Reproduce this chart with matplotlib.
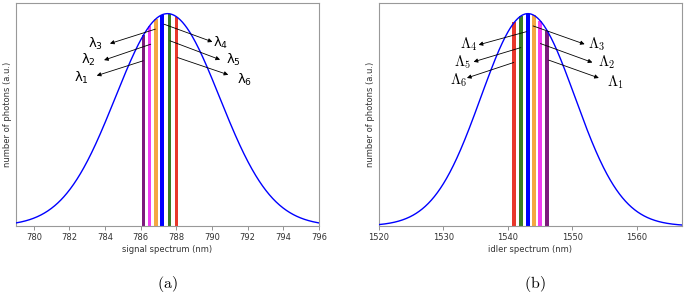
import numpy as np
import matplotlib.pyplot as plt

plt.rcParams["mathtext.fontset"] = "cm"

# signal side (nm)
signal_centre = 787.5
signal_sigma = 2.92
signal_lines = [786.15, 786.5, 786.85, 787.2, 787.6, 788.0]
signal_ticks = [780, 782, 784, 786, 788, 790, 792, 794, 796]

# idler side (nm)
idler_centre = 1543.1
idler_sigma = 7.3
idler_lines = [1541.0, 1542.0, 1543.1, 1544.0, 1545.0, 1546.1]
idler_ticks = [1520, 1530, 1540, 1550, 1560]

line_colours_signal = ["#7d1a7d", "#f03cf0", "#f5a742", "#0000ff", "#3b7d23", "#e8382b"]
line_colours_idler = ["#e8382b", "#3b7d23", "#0000ff", "#f5a742", "#f03cf0", "#7d1a7d"]

# labels: (text, label x, label y, arrow tail x, tail y, head x, head y)
signal_labels = [
    (r"$\mathregular{λ_3}$", 783.45, 0.856, 786.82, 0.927, 784.27, 0.859),
    (r"$\mathregular{λ_2}$", 783.05, 0.781, 786.56, 0.856, 783.94, 0.781),
    (r"$\mathregular{λ_1}$", 782.65, 0.697, 786.14, 0.778, 783.53, 0.708),
    (r"$\mathregular{λ_4}$", 790.5, 0.864, 787.31, 0.950, 790.02, 0.867),
    (r"$\mathregular{λ_5}$", 791.2, 0.781, 787.64, 0.872, 790.45, 0.783),
    (r"$\mathregular{λ_6}$", 791.85, 0.688, 788.07, 0.793, 790.91, 0.712),
]
idler_labels = [
    (r"$\Lambda_4$", 1534.0, 0.856, 1542.86, 0.915, 1535.45, 0.853),
    (r"$\Lambda_5$", 1533.0, 0.770, 1542.0, 0.840, 1534.67, 0.773),
    (r"$\Lambda_6$", 1532.4, 0.684, 1540.9, 0.770, 1533.64, 0.697),
    (r"$\Lambda_3$", 1553.7, 0.856, 1543.9, 0.942, 1551.9, 0.856),
    (r"$\Lambda_2$", 1555.3, 0.770, 1545.04, 0.859, 1553.1, 0.770),
    (r"$\Lambda_1$", 1556.7, 0.676, 1546.33, 0.781, 1554.1, 0.697),
]


def gauss(x, centre, sigma):
    return np.exp(-(x - centre) ** 2 / (2 * sigma ** 2))


def panel(ax, centre, sigma, xlim, lines, colours, width, labels, label_size,
          ticks, xlabel):
    xs = np.linspace(xlim[0], xlim[1], 800)
    heights = [gauss(x, centre, sigma) for x in lines]
    ax.bar(lines, heights, width=width, color=colours, zorder=2)
    ax.plot(xs, gauss(xs, centre, sigma), color="blue", lw=1.0, zorder=3)

    for text, tx, ty, ax0, ay0, ax1, ay1 in labels:
        ax.annotate("", xy=(ax1, ay1), xytext=(ax0, ay0),
                    arrowprops=dict(arrowstyle="-|>", color="black", lw=0.6,
                                    shrinkA=0, shrinkB=0, mutation_scale=6),
                    zorder=4)
        ax.text(tx, ty, text, fontsize=label_size, ha="center", va="center")

    ax.set_xlim(xlim)
    ax.set_xticks(ticks)
    ax.set_yticks([])
    ax.set_ylim(0, 1.05)
    ax.set_xlabel(xlabel, fontsize=6, color="0.2", labelpad=2)
    ax.set_ylabel("number of photons (a.u.)", fontsize=6, color="0.2", labelpad=3)
    ax.tick_params(axis="x", labelsize=6, colors="0.2", length=3, width=0.6, pad=2,
                   color="0.5")
    for s in ax.spines.values():
        s.set_color("0.6")
        s.set_linewidth(0.8)


fig = plt.figure(figsize=(6.85, 2.94), dpi=100)
ax1 = fig.add_axes([16 / 685, 68 / 294, 303 / 685, 223 / 294])
ax2 = fig.add_axes([379 / 685, 68 / 294, 303 / 685, 223 / 294])

panel(ax1, signal_centre, signal_sigma, (779, 796), signal_lines, line_colours_signal,
      0.2, signal_labels, 9.5, signal_ticks, "signal spectrum (nm)")
panel(ax2, idler_centre, idler_sigma, (1520, 1567), idler_lines, line_colours_idler,
      0.6, idler_labels, 10.5, idler_ticks, "idler spectrum (nm)")

fig.text(167 / 685, 1 - 284 / 294, r"$\mathrm{(a)}$", fontsize=11.5,
         ha="center", va="center")
fig.text(535 / 685, 1 - 284 / 294, r"$\mathrm{(b)}$", fontsize=11.5,
         ha="center", va="center")

fig.savefig("out.png", dpi=100)
